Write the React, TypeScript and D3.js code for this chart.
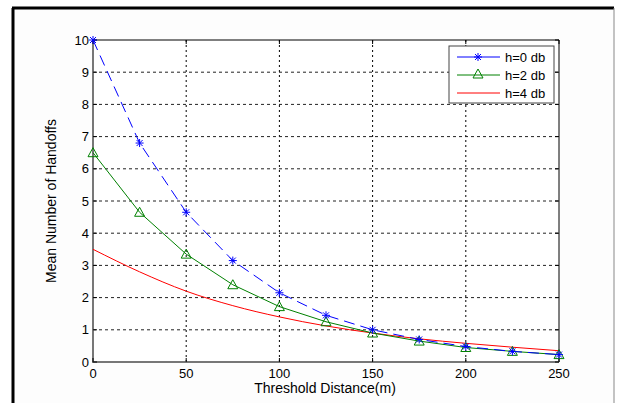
import React from "react";
import * as d3 from "d3";

const xTicks = [0, 50, 100, 150, 200, 250];
const yTicks = [0, 1, 2, 3, 4, 5, 6, 7, 8, 9, 10];
const distances = [0, 25, 50, 75, 100, 125, 150, 175, 200, 225, 250];
const h0 = [10, 6.8, 4.65, 3.15, 2.15, 1.45, 1.0, 0.7, 0.48, 0.33, 0.23];
const h2 = [6.5, 4.65, 3.35, 2.4, 1.72, 1.25, 0.9, 0.65, 0.45, 0.33, 0.23];
const h4 = [3.5, 2.8, 2.2, 1.75, 1.4, 1.12, 0.9, 0.72, 0.58, 0.46, 0.35];
const legendLabels = ["h=0 db", "h=2 db", "h=4 db"];

export default function App() {
  const W = 617, H = 403;
  const L = 93, R = 559, T = 40, B = 362;
  const x = d3.scaleLinear().domain([0, 250]).range([L, R]);
  const y = d3.scaleLinear().domain([0, 10]).range([B, T]);
  const pts = (vals: number[]) => distances.map((d, i) => [d, vals[i]] as [number, number]);
  const line = d3.line<[number, number]>().x(d => x(d[0])).y(d => y(d[1]));
  const smooth = d3.line<[number, number]>().x(d => x(d[0])).y(d => y(d[1])).curve(d3.curveMonotoneX);
  const font = "'Liberation Sans', Arial, sans-serif";

  const star = (cx: number, cy: number, k: string) => (
    <g key={k} stroke="#0000ff" strokeWidth={1}>
      <line x1={cx - 4} y1={cy} x2={cx + 4} y2={cy} />
      <line x1={cx} y1={cy - 4} x2={cx} y2={cy + 4} />
      <line x1={cx - 3} y1={cy - 3} x2={cx + 3} y2={cy + 3} />
      <line x1={cx - 3} y1={cy + 3} x2={cx + 3} y2={cy - 3} />
    </g>
  );
  const tri = (cx: number, cy: number, k: string) => (
    <path key={k} d={`M${cx},${cy - 5}L${cx + 5},${cy + 4}L${cx - 5},${cy + 4}Z`} fill="none" stroke="#008000" strokeWidth={1} />
  );

  return (
    <svg width={W} height={H} style={{ position: "absolute", left: 0, top: 0, background: "#fff" }}>
      <rect x={13} y={8} width={601} height={400} fill="#fdfdfd" />
      <line x1={13} y1={8} x2={13} y2={403} stroke="#000" strokeWidth={3} />
      <line x1={12} y1={8} x2={614} y2={8} stroke="#000" strokeWidth={3} />
      <line x1={614} y1={8} x2={614} y2={403} stroke="#888" strokeWidth={1} />
      <rect x={L} y={T} width={R - L} height={B - T} fill="#fff" />
      {xTicks.slice(1, -1).map(t => (
        <line key={"gx" + t} x1={x(t)} x2={x(t)} y1={T} y2={B} stroke="#000" strokeDasharray="2,3" strokeWidth={1} />
      ))}
      {yTicks.slice(1, -1).map(t => (
        <line key={"gy" + t} x1={L} x2={R} y1={y(t)} y2={y(t)} stroke="#222" strokeDasharray="3,3" strokeWidth={1} />
      ))}
      <line x1={L} y1={T} x2={R} y2={T} stroke="#000" />
      <line x1={R} y1={T} x2={R} y2={B} stroke="#000" />
      <line x1={L} y1={T} x2={L} y2={B + 1} stroke="#777" strokeWidth={2} />
      <line x1={L} y1={B} x2={R} y2={B} stroke="#777" strokeWidth={2} />
      {xTicks.map(t => (
        <g key={"xt" + t}>
          <line x1={x(t)} x2={x(t)} y1={B} y2={B - 4} stroke="#000" />
          <line x1={x(t)} x2={x(t)} y1={T} y2={T + 4} stroke="#000" />
          <text x={x(t)} y={B + 16} textAnchor="middle" fontFamily={font} fontSize={13} fill="#000">{t}</text>
        </g>
      ))}
      {yTicks.map(t => (
        <g key={"yt" + t}>
          <line x1={L} x2={L + 4} y1={y(t)} y2={y(t)} stroke="#000" />
          <line x1={R} x2={R - 4} y1={y(t)} y2={y(t)} stroke="#000" />
          <text x={L - 4} y={y(t) + 4.5} textAnchor="end" fontFamily={font} fontSize={13} fill="#000">{t}</text>
        </g>
      ))}
      <path d={smooth(pts(h4)) || ""} fill="none" stroke="#ff0000" strokeWidth={1} />
      <path d={line(pts(h2)) || ""} fill="none" stroke="#008000" strokeWidth={1} />
      {pts(h2).map((p, i) => tri(x(p[0]), y(p[1]), "t" + i))}
      <path d={line(pts(h0)) || ""} fill="none" stroke="#0000ff" strokeWidth={1} strokeDasharray="11,6" />
      {pts(h0).map((p, i) => star(x(p[0]), y(p[1]), "s" + i))}
      <text x={325} y={393} textAnchor="middle" fontFamily={font} fontSize={14} fill="#000">Threshold Distance(m)</text>
      <text transform="translate(56,201) rotate(-90)" textAnchor="middle" fontFamily={font} fontSize={14} fill="#000">Mean Number of Handoffs</text>
      <rect x={449} y={46} width={105} height={57} fill="#fff" stroke="#444" strokeWidth={1} />
      {legendLabels.map((lab, i) => {
        const ly = 57 + i * 18;
        const color = ["#0000ff", "#008000", "#ff0000"][i];
        return (
          <g key={lab}>
            <line x1={457} x2={500} y1={ly} y2={ly} stroke={color} />
            {i === 0 && star(478, ly, "ls")}
            {i === 1 && tri(478, ly - 1, "lt")}
            <text x={505} y={ly + 4.5} fontFamily={font} fontSize={13} fill="#000">{lab}</text>
          </g>
        );
      })}
    </svg>
  );
}
